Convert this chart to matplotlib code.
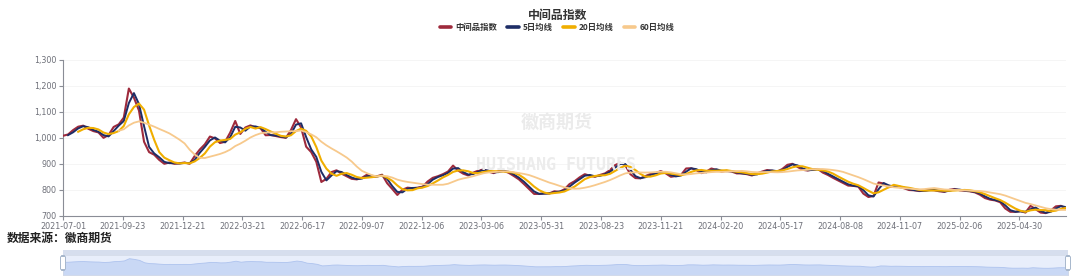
import matplotlib
matplotlib.use('Agg')
import matplotlib.pyplot as plt
import numpy as np
import pandas as pd
from matplotlib.lines import Line2D
from matplotlib.patches import FancyBboxPatch, Rectangle

plt.rcParams['font.family'] = ['Noto Sans CJK SC', 'DejaVu Sans']

# ---------------- data ----------------
title = '中间品指数'
series_names = ['中间品指数', '5日均线', '20日均线', '60日均线']
source_text = '数据来源：徽商期货'
watermark_cn = '徽商期货'
watermark_en = 'HUISHANG FUTURES'
tick_labels = ['2021-07-01', '2021-09-23', '2021-12-21', '2022-03-21', '2022-06-17',
               '2022-09-07', '2022-12-06', '2023-03-06', '2023-05-31', '2023-08-23',
               '2023-11-21', '2024-02-20', '2024-05-17', '2024-08-08', '2024-11-07',
               '2025-02-06', '2025-04-30']
tick_interval = 59      # trading days between axis labels
sample_step = 5         # trading days between samples
y_ticks = [700, 800, 900, 1000, 1100, 1200, 1300]

index_values = [
    1008, 1013, 1030, 1043, 1047, 1035, 1026, 1021, 1000, 1011,
    1042, 1052, 1078, 1190, 1155, 1105, 985, 945, 935, 915,
    900, 905, 900, 902, 905, 900, 930, 955, 975, 1005,
    998, 980, 985, 1020, 1065, 1015, 1040, 1048, 1040, 1037,
    1010, 1011, 1007, 1003, 1000, 1030, 1072, 1040, 966, 945,
    908, 830, 842, 868, 875, 862, 852, 842, 840, 846,
    858, 850, 852, 858, 825, 803, 780, 800, 808, 806,
    808, 812, 832, 846, 852, 860, 870, 893, 874, 862,
    855, 866, 874, 878, 870, 864, 872, 873, 865, 853,
    840, 822, 803, 784, 784, 786, 786, 794, 792, 802,
    822, 833, 848, 860, 854, 850, 857, 863, 876, 895,
    904, 894, 860, 845, 844, 853, 861, 864, 872, 863,
    850, 853, 857, 882, 883, 876, 864, 870, 882, 876,
    870, 873, 870, 863, 863, 860, 855, 863, 870, 876,
    873, 870, 880, 896, 900, 888, 877, 874, 878, 880,
    866, 857, 846, 836, 826, 816, 815, 812, 785, 772,
    776, 828, 824, 810, 814, 811, 806, 799, 798, 795,
    796, 800, 798, 794, 792, 800, 803, 798, 796, 794,
    790, 781, 768, 762, 759, 752, 728, 715, 715, 718,
    712, 738, 725, 712, 710, 720, 736, 738, 728,
]

# ---------------- derived ----------------
s = pd.Series(index_values, dtype=float)
x = np.arange(len(s)) * sample_step
ma5 = s.rolling(2).mean()
ma20 = s.rolling(4).mean()
ma60 = s.rolling(12).mean()

colors = ['#9e2a3c', '#1d2d66', '#f0ae00', '#f7c98c']
W, H = 1080, 279
fig = plt.figure(figsize=(W / 100, H / 100), dpi=100)
fig.patch.set_facecolor('white')

left, right, top, bottom = 63, 1066, 60, 215.7
ax = fig.add_axes([left / W, 1 - bottom / H, (right - left) / W, (bottom - top) / H])
ax.set_facecolor('white')

# watermarks
fig.text(557 / W, 1 - 122 / H, watermark_cn, fontsize=13, color='#ebebeb',
         ha='center', va='center', fontweight='bold', zorder=0)
fig.text(556 / W, 1 - 165 / H, watermark_en, fontsize=12, color='#ececec',
         ha='center', va='center', fontweight='bold', family='DejaVu Sans Mono', zorder=0)

ax.plot(x, s, color=colors[0], lw=1.5, zorder=3)
ax.plot(x, ma5, color=colors[1], lw=1.4, zorder=4)
ax.plot(x, ma20, color=colors[2], lw=1.5, zorder=5)
ax.plot(x, ma60, color=colors[3], lw=1.3, zorder=6)

ax.set_xlim(0, x[-1])
ax.set_ylim(700, 1300)
ax.set_yticks(y_ticks)
ax.set_yticklabels([f'{v:,}' for v in y_ticks])
ax.set_xticks(np.arange(len(tick_labels)) * tick_interval)
ax.set_xticklabels(tick_labels)
ax.tick_params(axis='both', labelsize=5.8, colors='#8a8d96', length=3, width=0.8,
               labelcolor='#6e7079', pad=1.5)
for v in y_ticks:
    ax.axhline(v, color='#f4f4f4', lw=0.6, zorder=0)
for sp in ['top', 'right']:
    ax.spines[sp].set_visible(False)
for sp in ['left', 'bottom']:
    ax.spines[sp].set_color('#8a8d96')
    ax.spines[sp].set_linewidth(0.8)
for lab in ax.get_xticklabels() + ax.get_yticklabels():
    lab.set_family('DejaVu Sans')

# title and legend
fig.text(558 / W, 1 - 15 / H, title, fontsize=8.6, fontweight='bold', ha='center',
         va='center', color='#333333')
handles = [Line2D([0], [0], color=c, lw=2.6, solid_capstyle='round') for c in colors]
leg = fig.legend(handles, series_names, loc='center', bbox_to_anchor=(557 / W, 1 - 27.7 / H),
                 ncol=4, frameon=False, fontsize=6, handlelength=1.4, handletextpad=0.5,
                 columnspacing=1.2, prop={'weight': 'bold', 'size': 6})
for t in leg.get_texts():
    t.set_color('#333333')

fig.text(7 / W, 1 - 238 / H, source_text, fontsize=8.5, fontweight='bold',
         ha='left', va='center', color='#222222')

# data zoom slider
sl, sr, st, sb = 63, 1068, 255, 275
band_top = 250
fig.patches.append(Rectangle((sl / W, 1 - st / H), (sr - sl) / W, (st - band_top) / H,
                             transform=fig.transFigure, facecolor='#d6deee',
                             edgecolor='none', zorder=1))
ax2 = fig.add_axes([sl / W, 1 - sb / H, (sr - sl) / W, (sb - st) / H])
ax2.set_facecolor('#e8eefb')
ax2.fill_between(x, s, 0, color='#c9d8f5', lw=0.6, edgecolor='#aec3ee')
ax2.set_xlim(0, x[-1])
ax2.set_ylim(350, 1350)
ax2.set_xticks([])
ax2.set_yticks([])
for sp in ax2.spines.values():
    sp.set_color('#d4dbe9')
    sp.set_linewidth(0.6)
for hx in (sl, sr):
    fig.patches.append(FancyBboxPatch(((hx - 2.5) / W, 1 - 270 / H), 5 / W, 14 / H,
                                      boxstyle='round,pad=0,rounding_size=0.004',
                                      transform=fig.transFigure, facecolor='white',
                                      edgecolor='#a7b7cc', lw=0.7, zorder=10))

fig.savefig('out.png', dpi=100, facecolor='white')
